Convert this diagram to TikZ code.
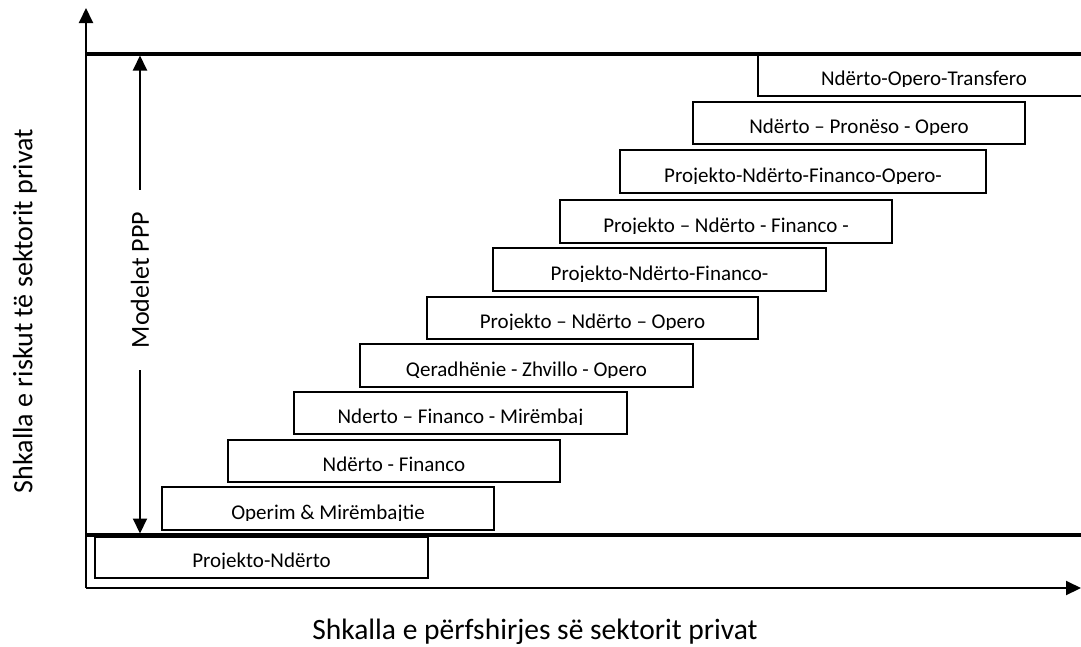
\documentclass[tikz,border=0pt]{standalone}
\usepackage{fontspec}
\setmainfont{Carlito}
\usetikzlibrary{arrows.meta,fit,calc}
\tikzset{
  stepbox/.style={draw, line width=1.6pt, inner sep=0pt},
  boxtext/.style={font=\fontsize{21}{25}\selectfont, anchor=base, inner sep=0pt},
  axisline/.style={line width=2pt},
  bandline/.style={line width=3.2pt},
  tip/.style={-{Triangle[length=15pt,width=14pt]}},
  biglabel/.style={inner sep=0pt},
}
\newcommand\ppstep[6]{%
  \node[stepbox, fit={(#2,#3)(#4,#5)}] (#1) {};
  \begin{scope}
    \clip (#2,#3) rectangle (#4,#5-10);
    \node[boxtext] (#1t) at ({(#2+#4)/2},#5-11) {#6};
  \end{scope}}
\begin{document}
\begin{tikzpicture}[x=1pt,y=-1pt]
\useasboundingbox (0,0) rectangle (1081,646);
\clip (0,0) rectangle (1081,646);
% axes
\coordinate (O) at (86,588);
\coordinate (ytip) at (86,8);
\coordinate (xtip) at (1081,588);
\draw[axisline,tip] (O) -- (ytip);
\draw[axisline,tip] (O) -- (xtip);
% band lines
\coordinate (tl) at (86,54);
\coordinate (tr) at (1081,54);
\coordinate (bl) at (86,535);
\coordinate (br) at (1081,535);
\draw[bandline] (tl) -- (tr);
\draw[bandline] (bl) -- (br);
% steps
\ppstep{s1}{95}{537}{428}{578}{Projekto-Ndërto}
\ppstep{s2}{162}{487}{494}{530}{Operim \& Mirëmbajtie}
\ppstep{s3}{228}{440}{560}{482}{Ndërto - Financo}
\ppstep{s4}{294}{392}{627}{434}{Nderto – Financo - Mirëmbaj\hspace{14pt}}
\ppstep{s5}{360}{344}{693}{387}{Qeradhënie - Zhvillo - Opero}
\ppstep{s6}{427}{297}{758}{339}{Projekto – Ndërto – Opero}
\ppstep{s7}{493}{248}{826}{291}{Projekto-Ndërto-Financo-}
\ppstep{s8}{560}{200}{892}{243}{Projekto – Ndërto - Financo -}
\ppstep{s9}{620}{150}{986}{193}{Projekto-Ndërto-Financo-Opero-\hspace{16pt}}
\ppstep{s10}{693}{102}{1025}{144}{Ndërto – Pronëso - Opero}
\ppstep{s11}{758}{55}{1090}{96}{Ndërto-Opero-Transfero}
% PPP arrow
\node[biglabel, font=\fontsize{26}{30}\selectfont, rotate=90, inner xsep=22pt] (ppp) at (140,280) {Modelet PPP};
\coordinate (ptop) at (140,55.5);
\coordinate (pbot) at (140,533.5);
\draw[axisline,tip] (ppp.east) -- (ptop);
\draw[axisline,tip] (ppp.west) -- (pbot);
% axis labels
\node[biglabel, font=\fontsize{28}{32}\selectfont, rotate=90] (ylab) at (25,311) {Shkalla e riskut të sektorit privat};
\node[biglabel, font=\fontsize{29.5}{34}\selectfont] (xlab) at (535,632) {Shkalla e përfshirjes së sektorit privat};
\end{tikzpicture}
\end{document}
